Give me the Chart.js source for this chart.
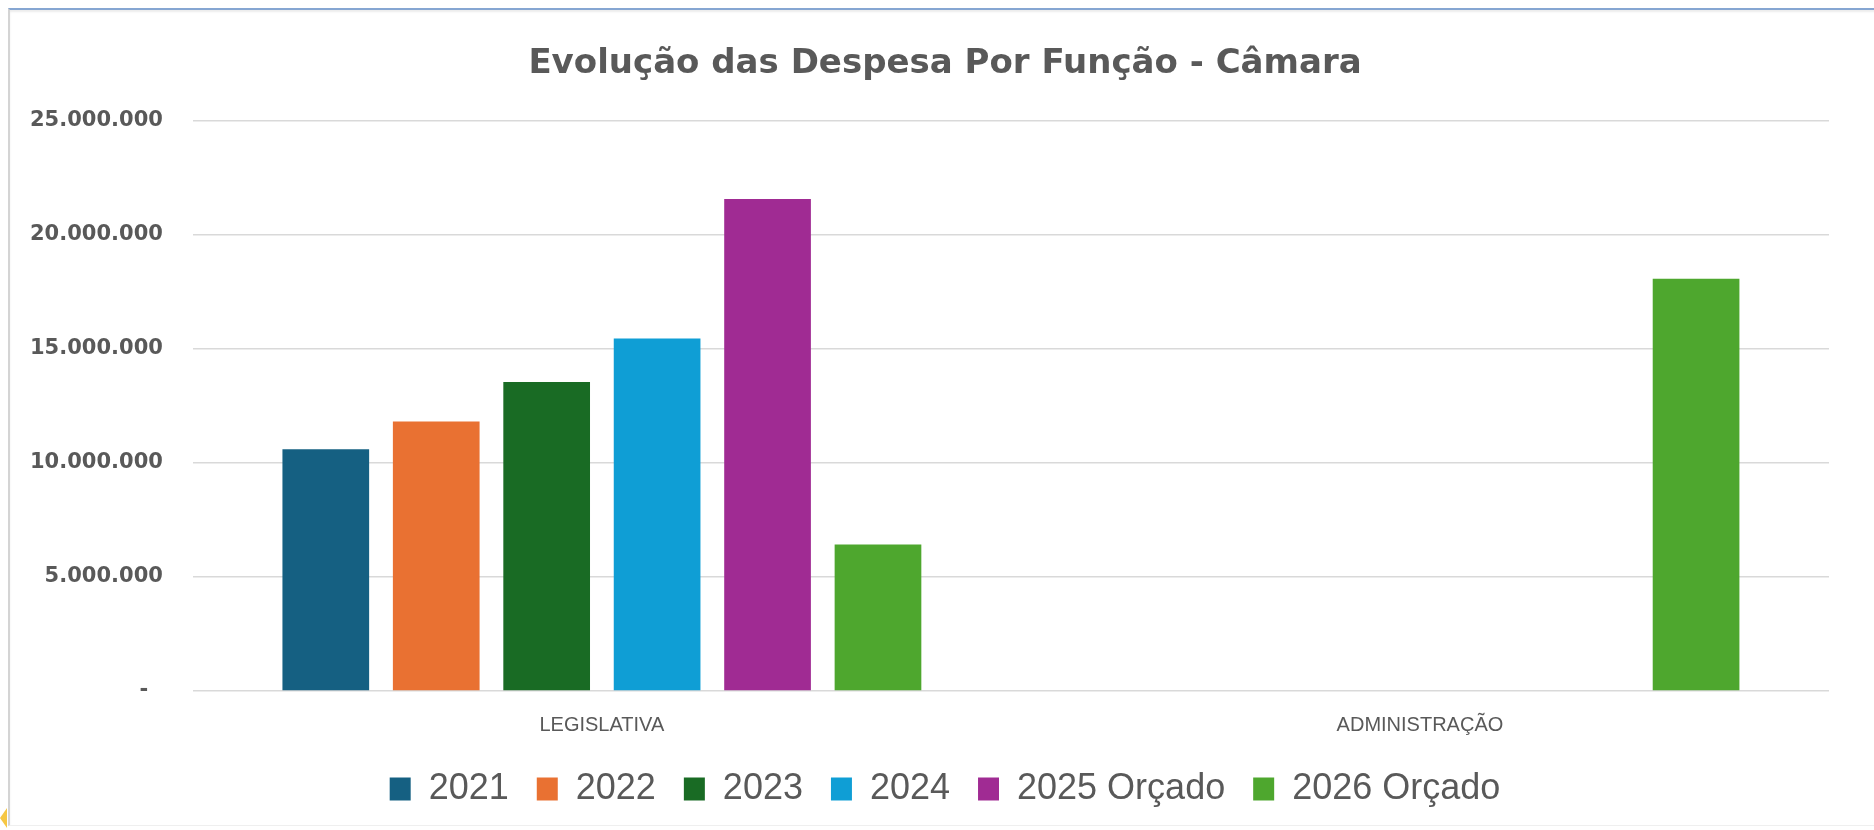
<!DOCTYPE html>
<html lang="pt-BR">
<head>
<meta charset="utf-8">
<title>Evolução das Despesa Por Função - Câmara</title>
<script src="https://cdn.jsdelivr.net/npm/chart.js@4.4.1/dist/chart.umd.min.js"></script>
<style>
    html, body { margin: 0; background: #fff; overflow: hidden; }
    body { width: 1874px; height: 830px; position: relative; }
    #frame {
        position: absolute; left: 8px; top: 8px; width: 1866px; height: 815px;
        border-top: 2px solid #86a6d2; border-left: 2px solid #d4d4d4; border-bottom: 1px solid #efefef;
        box-shadow: inset 0 2px 2px #ececec;
    }
    #marker {
        position: absolute; left: 0; top: 808px; width: 0; height: 0;
        border-top: 10px solid transparent; border-bottom: 10px solid transparent; border-right: 7px solid #f6c744;
    }
    /* a bit wider than the window so title and legend sit where Excel put them */
    #chartBox { position: absolute; left: 0; top: 0; width: 1890px; height: 830px; }
</style>
</head>
<body>
<div id="frame"></div>
<div id="marker"></div>
<div id="chartBox"><canvas id="despesasChart"></canvas></div>
<script>
// dados
const categorias = ['LEGISLATIVA', 'ADMINISTRAÇÃO'];
const series = ['2021', '2022', '2023', '2024', '2025 Orçado', '2026 Orçado'];
const valores2021 = [10600000, null];
const valores2022 = [11820000, null];
const valores2023 = [13550000, null];
const valores2024 = [15450000, null];
const valores2025 = [21570000, null];
const valores2026 = [6420000, 18070000];
const cores = ['#156082', '#E97132', '#196B24', '#0F9ED5', '#A02B93', '#4EA72E'];
const yMax = 25000000;
const yPasso = 5000000;

const textColor = '#595959';

function formatNumber(v) {
    if (v === 0) {
        return '-\u00a0\u00a0';
    }
    return String(Math.round(v)).replace(/\B(?=(\d{3})+(?!\d))/g, '.');
}

function buildDatasets() {
    const valores = [valores2021, valores2022, valores2023, valores2024, valores2025, valores2026];
    return series.map(function (nome, i) {
        return {
            label: nome,
            data: valores[i],
            backgroundColor: cores[i],
            borderWidth: 0,
            categoryPercentage: 0.81,
            barPercentage: 0.785
        };
    });
}

function renderChart() {
    const ctx = document.getElementById('despesasChart').getContext('2d');
    new Chart(ctx, {
        type: 'bar',
        data: {
            labels: categorias,
            datasets: buildDatasets()
        },
        options: {
            responsive: true,
            maintainAspectRatio: false,
            animation: false,
            devicePixelRatio: 1,
            layout: {
                padding: { left: 0, right: 0, top: 0, bottom: 13 }
            },
            plugins: {
                title: {
                    display: true,
                    text: 'Evolução das Despesa Por Função - Câmara',
                    color: textColor,
                    font: { family: 'DejaVu Sans', size: 34, weight: 'bold' },
                    padding: { top: 44, bottom: 36 }
                },
                legend: {
                    position: 'bottom',
                    labels: {
                        color: textColor,
                        font: { family: 'Liberation Sans', size: 36 },
                        boxWidth: 21,
                        boxHeight: 23,
                        padding: 28
                    }
                },
                tooltip: { enabled: false }
            },
            scales: {
                x: {
                    grid: { display: false, drawTicks: false },
                    border: { display: false },
                    ticks: {
                        color: textColor,
                        font: { family: 'Liberation Sans', size: 20 },
                        padding: 22
                    },
                    afterFit: function (scale) {
                        scale.height = scale.height - 16;
                    }
                },
                y: {
                    min: 0,
                    max: yMax,
                    grid: { color: '#d9d9d9', lineWidth: 1.5, drawTicks: false },
                    border: { display: false },
                    ticks: {
                        stepSize: yPasso,
                        color: textColor,
                        font: { family: 'DejaVu Sans', size: 21, weight: 'bold' },
                        padding: 30,
                        callback: function (value) {
                            return formatNumber(value);
                        }
                    }
                },
                yDireita: {
                    position: 'right',
                    display: true,
                    grid: { display: false, drawTicks: false },
                    border: { display: false },
                    ticks: { display: false },
                    afterFit: function (scale) {
                        scale.width = 61;
                    }
                }
            }
        }
    });
}

renderChart();
</script>
</body>
</html>
